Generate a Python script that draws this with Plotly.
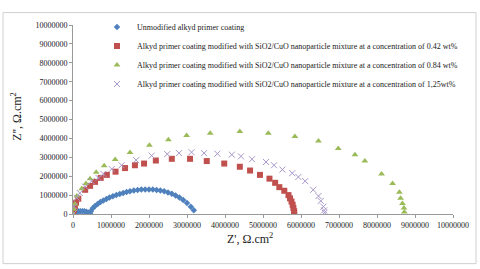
import plotly.graph_objects as go

# Data (Z' and Z'' in ohm.cm2)
blue_x = [0, 20000, 50000, 100000, 150000, 200000, 250000, 300000, 350000, 400000, 430000, 450000,
          470000, 520000, 580000, 650000, 720000, 800000, 880000, 960000, 1050000, 1140000, 1230000,
          1320000, 1410000, 1500000, 1600000, 1700000, 1800000, 1900000, 2000000, 2100000, 2200000,
          2300000, 2400000, 2500000, 2600000, 2700000, 2800000, 2900000, 3000000, 3100000, 3180000]
blue_y = [0, 50000, 90000, 120000, 140000, 150000, 150000, 140000, 120000, 80000, 40000, 10000,
          150000, 300000, 420000, 530000, 630000, 720000, 800000, 870000, 940000, 1000000, 1060000,
          1110000, 1160000, 1200000, 1240000, 1270000, 1290000, 1300000, 1300000, 1290000, 1270000,
          1240000, 1200000, 1140000, 1070000, 980000, 870000, 740000, 580000, 380000, 200000]

red_x = [0, 20000, 50000, 80000, 140000, 320000, 450000, 580000, 730000, 890000, 1120000, 1370000,
         1630000, 1870000, 2180000, 2600000, 3080000, 3520000, 3980000, 4390000, 4660000, 4920000,
         5170000, 5320000, 5430000, 5560000, 5670000, 5710000, 5750000, 5780000, 5800000, 5820000, 5820000]
red_y = [0, 200000, 400000, 600000, 810000, 1280000, 1490000, 1700000, 1910000, 2070000, 2240000, 2430000,
         2580000, 2670000, 2830000, 2920000, 2920000, 2800000, 2670000, 2500000, 2300000, 2070000,
         1870000, 1650000, 1420000, 1230000, 1000000, 830000, 660000, 490000, 320000, 150000, 20000]

green_x = [0, 20000, 50000, 100000, 230000, 340000, 450000, 610000, 820000, 1110000, 1500000, 2010000,
           2510000, 2990000, 3610000, 4390000, 5140000, 5840000, 6460000, 6980000, 7420000, 7680000,
           8120000, 8410000, 8590000, 8620000, 8670000, 8710000, 8720000]
green_y = [0, 250000, 530000, 950000, 1340000, 1620000, 1870000, 2210000, 2550000, 2880000, 3260000, 3640000,
           3930000, 4150000, 4270000, 4370000, 4270000, 4100000, 3860000, 3470000, 3140000, 2800000,
           2120000, 1620000, 1150000, 830000, 560000, 320000, 100000]

purple_x = [0, 30000, 100000, 180000, 320000, 490000, 670000, 800000, 1020000, 1280000, 1660000, 2070000,
            2480000, 2790000, 3120000, 3450000, 3800000, 4180000, 4420000, 4710000, 5080000, 5290000,
            5510000, 5770000, 5930000, 6110000, 6320000, 6460000, 6520000, 6590000, 6610000, 6620000]
purple_y = [0, 400000, 860000, 1110000, 1450000, 1740000, 1910000, 2120000, 2380000, 2580000, 2850000, 3090000,
            3170000, 3220000, 3270000, 3220000, 3190000, 3140000, 3050000, 2900000, 2750000, 2580000,
            2350000, 2160000, 1960000, 1740000, 1280000, 950000, 690000, 390000, 190000, 70000]

names = [
    "Unmodified alkyd primer coating",
    "Alkyd primer coating modified with SiO2/CuO nanoparticle mixture at a concentration of 0.42 wt%",
    "Alkyd primer coating modified with SiO2/CuO nanoparticle mixture at a concentration of 0.84 wt%",
    "Alkyd primer coating modified with SiO2/CuO nanoparticle mixture at a concentration of 1,25wt%",
]
tick_vals = [0, 1000000, 2000000, 3000000, 4000000, 5000000, 6000000, 7000000, 8000000, 9000000, 10000000]
tick_text = [str(v) for v in tick_vals]

FONT = "Liberation Serif, Times New Roman, serif"

fig = go.Figure()
fig.add_trace(go.Scatter(x=blue_x, y=blue_y, mode="markers", name=names[0],
                         marker=dict(symbol="diamond", size=5, color="#4F81BD")))
fig.add_trace(go.Scatter(x=red_x, y=red_y, mode="markers", name=names[1],
                         marker=dict(symbol="square", size=6, color="#C0504D")))
fig.add_trace(go.Scatter(x=green_x, y=green_y, mode="markers", name=names[2],
                         marker=dict(symbol="triangle-up", size=6, color="#9BBB59")))
fig.add_trace(go.Scatter(x=purple_x, y=purple_y, mode="markers", name=names[3],
                         marker=dict(symbol="x-thin", size=6, color="#A797C9",
                                     line=dict(width=1, color="#A797C9"))))

axis_common = dict(range=[0, 10000000], tickmode="array", tickvals=tick_vals, ticktext=tick_text,
                   showgrid=False, zeroline=False, showline=True, linecolor="#9a9a9a", linewidth=1,
                   ticks="outside", ticklen=3, tickcolor="#9a9a9a",
                   tickfont=dict(family=FONT, size=8, color="#222"))
fig.update_xaxes(**axis_common)
fig.update_yaxes(**axis_common)

fig.update_layout(
    width=480, height=269,
    margin=dict(l=73, r=27, t=16, b=55),
    paper_bgcolor="white", plot_bgcolor="white",
    showlegend=True,
    legend=dict(x=(97 - 73) / 380, y=1.066, xanchor="left", yanchor="top",
                bgcolor="rgba(0,0,0,0)", borderwidth=0,
                font=dict(family=FONT, size=8, color="#222"), itemwidth=30),
    annotations=[
        dict(text="Z', Ω.cm<sup>2</sup>", xref="paper", yref="paper",
             x=(250 - 73) / 380, y=(214 - 240) / 198, xanchor="center", yanchor="middle",
             showarrow=False, font=dict(family=FONT, size=12, color="#222")),
        dict(text="Z'', Ω.cm<sup>2</sup>", xref="paper", yref="paper", textangle=-90,
             x=(17 - 73) / 380, y=(214 - 112) / 198, xanchor="center", yanchor="middle",
             showarrow=False, font=dict(family=FONT, size=12, color="#222")),
    ],
    shapes=[dict(type="rect", xref="paper", yref="paper",
                 x0=(3 - 73) / 380, x1=(476 - 73) / 380,
                 y0=(214 - 266) / 198, y1=(214 - 3) / 198,
                 line=dict(color="#d0d0d0", width=1))],
)

fig.write_html("out.html", config={"displayModeBar": False},
               post_script="document.body.style.margin='0';document.body.style.padding='0';")
